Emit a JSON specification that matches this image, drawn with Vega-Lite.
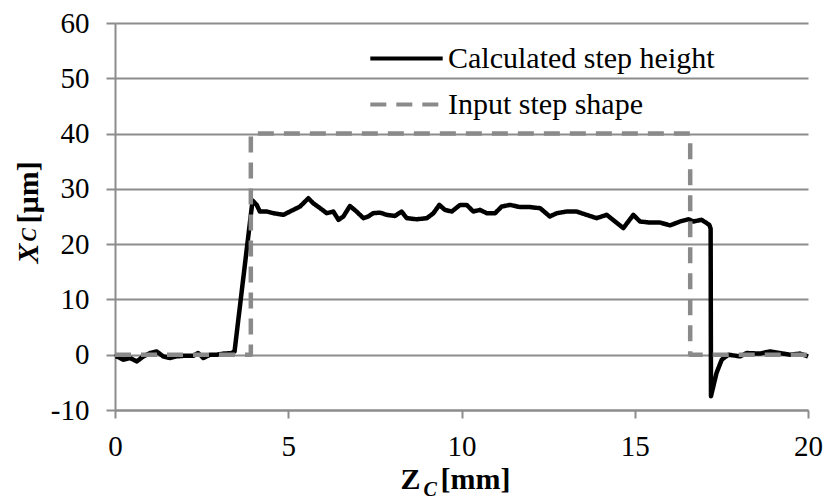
{
  "$schema": "https://vega.github.io/schema/vega-lite/v6.json",
  "width": 693,
  "height": 387,
  "autosize": {"type": "none"},
  "padding": {"left": 115, "top": 23, "right": 17, "bottom": 87},
  "background": "white",
  "config": {
    "view": {"stroke": null},
    "font": "Liberation Serif"
  },
  "datasets": {
    "d": [
      {"s": "Calculated step height", "i": 1, "zc": 0.0, "xc": -0.4},
      {"s": "Calculated step height", "i": 2, "zc": 0.05, "xc": -0.3},
      {"s": "Calculated step height", "i": 3, "zc": 0.24, "xc": -0.9},
      {"s": "Calculated step height", "i": 4, "zc": 0.43, "xc": -0.6},
      {"s": "Calculated step height", "i": 5, "zc": 0.63, "xc": -1.2},
      {"s": "Calculated step height", "i": 6, "zc": 0.82, "xc": -0.3},
      {"s": "Calculated step height", "i": 7, "zc": 1.01, "xc": 0.3},
      {"s": "Calculated step height", "i": 8, "zc": 1.2, "xc": 0.6},
      {"s": "Calculated step height", "i": 9, "zc": 1.39, "xc": -0.3},
      {"s": "Calculated step height", "i": 10, "zc": 1.59, "xc": -0.6},
      {"s": "Calculated step height", "i": 11, "zc": 1.78, "xc": -0.3},
      {"s": "Calculated step height", "i": 12, "zc": 1.97, "xc": -0.2},
      {"s": "Calculated step height", "i": 13, "zc": 2.26, "xc": -0.2},
      {"s": "Calculated step height", "i": 14, "zc": 2.4, "xc": 0.3},
      {"s": "Calculated step height", "i": 15, "zc": 2.55, "xc": -0.6},
      {"s": "Calculated step height", "i": 16, "zc": 2.74, "xc": 0.0},
      {"s": "Calculated step height", "i": 17, "zc": 2.93, "xc": 0.0},
      {"s": "Calculated step height", "i": 18, "zc": 3.13, "xc": 0.2},
      {"s": "Calculated step height", "i": 19, "zc": 3.37, "xc": 0.3},
      {"s": "Calculated step height", "i": 20, "zc": 3.45, "xc": 0.6},
      {"s": "Calculated step height", "i": 21, "zc": 3.97, "xc": 27.9},
      {"s": "Calculated step height", "i": 22, "zc": 4.09, "xc": 27.1},
      {"s": "Calculated step height", "i": 23, "zc": 4.18, "xc": 25.9},
      {"s": "Calculated step height", "i": 24, "zc": 4.38, "xc": 25.9},
      {"s": "Calculated step height", "i": 25, "zc": 4.57, "xc": 25.6},
      {"s": "Calculated step height", "i": 26, "zc": 4.86, "xc": 25.3},
      {"s": "Calculated step height", "i": 27, "zc": 5.05, "xc": 25.9},
      {"s": "Calculated step height", "i": 28, "zc": 5.34, "xc": 26.8},
      {"s": "Calculated step height", "i": 29, "zc": 5.58, "xc": 28.3},
      {"s": "Calculated step height", "i": 30, "zc": 5.72, "xc": 27.4},
      {"s": "Calculated step height", "i": 31, "zc": 5.92, "xc": 26.5},
      {"s": "Calculated step height", "i": 32, "zc": 6.11, "xc": 25.6},
      {"s": "Calculated step height", "i": 33, "zc": 6.3, "xc": 25.9},
      {"s": "Calculated step height", "i": 34, "zc": 6.45, "xc": 24.4},
      {"s": "Calculated step height", "i": 35, "zc": 6.59, "xc": 25.0},
      {"s": "Calculated step height", "i": 36, "zc": 6.78, "xc": 26.9},
      {"s": "Calculated step height", "i": 37, "zc": 6.97, "xc": 25.9},
      {"s": "Calculated step height", "i": 38, "zc": 7.17, "xc": 24.7},
      {"s": "Calculated step height", "i": 39, "zc": 7.31, "xc": 25.0},
      {"s": "Calculated step height", "i": 40, "zc": 7.45, "xc": 25.6},
      {"s": "Calculated step height", "i": 41, "zc": 7.65, "xc": 25.7},
      {"s": "Calculated step height", "i": 42, "zc": 7.84, "xc": 25.3},
      {"s": "Calculated step height", "i": 43, "zc": 8.08, "xc": 25.1},
      {"s": "Calculated step height", "i": 44, "zc": 8.27, "xc": 25.9},
      {"s": "Calculated step height", "i": 45, "zc": 8.42, "xc": 24.7},
      {"s": "Calculated step height", "i": 46, "zc": 8.71, "xc": 24.5},
      {"s": "Calculated step height", "i": 47, "zc": 9.0, "xc": 24.7},
      {"s": "Calculated step height", "i": 48, "zc": 9.19, "xc": 25.6},
      {"s": "Calculated step height", "i": 49, "zc": 9.36, "xc": 27.1},
      {"s": "Calculated step height", "i": 50, "zc": 9.52, "xc": 26.2},
      {"s": "Calculated step height", "i": 51, "zc": 9.72, "xc": 25.9},
      {"s": "Calculated step height", "i": 52, "zc": 9.96, "xc": 27.1},
      {"s": "Calculated step height", "i": 53, "zc": 10.15, "xc": 27.1},
      {"s": "Calculated step height", "i": 54, "zc": 10.34, "xc": 25.9},
      {"s": "Calculated step height", "i": 55, "zc": 10.53, "xc": 26.2},
      {"s": "Calculated step height", "i": 56, "zc": 10.73, "xc": 25.6},
      {"s": "Calculated step height", "i": 57, "zc": 10.97, "xc": 25.6},
      {"s": "Calculated step height", "i": 58, "zc": 11.16, "xc": 26.8},
      {"s": "Calculated step height", "i": 59, "zc": 11.4, "xc": 27.1},
      {"s": "Calculated step height", "i": 60, "zc": 11.69, "xc": 26.7},
      {"s": "Calculated step height", "i": 61, "zc": 11.98, "xc": 26.7},
      {"s": "Calculated step height", "i": 62, "zc": 12.27, "xc": 26.5},
      {"s": "Calculated step height", "i": 63, "zc": 12.55, "xc": 25.0},
      {"s": "Calculated step height", "i": 64, "zc": 12.75, "xc": 25.6},
      {"s": "Calculated step height", "i": 65, "zc": 13.04, "xc": 25.9},
      {"s": "Calculated step height", "i": 66, "zc": 13.32, "xc": 25.9},
      {"s": "Calculated step height", "i": 67, "zc": 13.61, "xc": 25.3},
      {"s": "Calculated step height", "i": 68, "zc": 13.9, "xc": 24.7},
      {"s": "Calculated step height", "i": 69, "zc": 14.19, "xc": 25.3},
      {"s": "Calculated step height", "i": 70, "zc": 14.43, "xc": 24.1},
      {"s": "Calculated step height", "i": 71, "zc": 14.67, "xc": 22.9},
      {"s": "Calculated step height", "i": 72, "zc": 14.96, "xc": 25.3},
      {"s": "Calculated step height", "i": 73, "zc": 15.15, "xc": 24.1},
      {"s": "Calculated step height", "i": 74, "zc": 15.44, "xc": 23.9},
      {"s": "Calculated step height", "i": 75, "zc": 15.73, "xc": 23.9},
      {"s": "Calculated step height", "i": 76, "zc": 16.02, "xc": 23.4},
      {"s": "Calculated step height", "i": 77, "zc": 16.31, "xc": 24.1},
      {"s": "Calculated step height", "i": 78, "zc": 16.55, "xc": 24.5},
      {"s": "Calculated step height", "i": 79, "zc": 16.69, "xc": 24.1},
      {"s": "Calculated step height", "i": 80, "zc": 16.93, "xc": 24.4},
      {"s": "Calculated step height", "i": 81, "zc": 17.15, "xc": 23.5},
      {"s": "Calculated step height", "i": 82, "zc": 17.19, "xc": 22.8},
      {"s": "Calculated step height", "i": 83, "zc": 17.2, "xc": -7.5},
      {"s": "Calculated step height", "i": 84, "zc": 17.36, "xc": -3.3},
      {"s": "Calculated step height", "i": 85, "zc": 17.51, "xc": -0.9},
      {"s": "Calculated step height", "i": 86, "zc": 17.7, "xc": 0.0},
      {"s": "Calculated step height", "i": 87, "zc": 18.04, "xc": -0.3},
      {"s": "Calculated step height", "i": 88, "zc": 18.23, "xc": 0.3},
      {"s": "Calculated step height", "i": 89, "zc": 18.61, "xc": 0.2},
      {"s": "Calculated step height", "i": 90, "zc": 18.9, "xc": 0.6},
      {"s": "Calculated step height", "i": 91, "zc": 19.19, "xc": 0.3},
      {"s": "Calculated step height", "i": 92, "zc": 19.48, "xc": 0.0},
      {"s": "Calculated step height", "i": 93, "zc": 19.77, "xc": 0.2},
      {"s": "Calculated step height", "i": 94, "zc": 20.0, "xc": -0.3},
      {"s": "Input step shape", "i": 101, "zc": 0.0, "xc": 0.0},
      {"s": "Input step shape", "i": 102, "zc": 3.92, "xc": 0.0},
      {"s": "Input step shape", "i": 103, "zc": 3.92, "xc": 40.0},
      {"s": "Input step shape", "i": 104, "zc": 16.6, "xc": 40.0},
      {"s": "Input step shape", "i": 105, "zc": 16.6, "xc": 0.0},
      {"s": "Input step shape", "i": 106, "zc": 20.0, "xc": 0.0}
    ]
  },
  "data": {"name": "d"},
  "layer": [
    {
      "mark": {"type": "line", "strokeWidth": 4.5, "strokeJoin": "round", "strokeCap": "butt"},
      "encoding": {
        "x": {
          "field": "zc", "type": "quantitative",
          "scale": {"domain": [0, 20], "nice": false, "zero": false},
          "axis": {
            "orient": "bottom",
            "values": [0, 5, 10, 15, 20],
            "labelExpr": "'' + datum.value",
            "grid": false,
            "domain": true, "domainColor": "#8c8c8c", "domainWidth": 2,
            "ticks": true, "tickColor": "#8c8c8c", "tickWidth": 2, "tickSize": 8,
            "labelFont": "Liberation Serif", "labelFontSize": 29, "labelColor": "black",
            "labelPadding": 14, "labelFlush": false,
            "title": "Z",
            "titleFont": "Liberation Serif", "titleFontSize": 30, "titleFontWeight": "bold", "titleColor": "black",
            "titleAlign": "left", "titleBaseline": "alphabetic", "titleAnchor": null,
            "titleX": 285, "titleY": 78
          }
        },
        "y": {
          "field": "xc", "type": "quantitative",
          "scale": {"domain": [-10, 60], "nice": false, "zero": false},
          "axis": {
            "orient": "left",
            "values": [-10, 0, 10, 20, 30, 40, 50, 60],
            "labelExpr": "'' + datum.value",
            "grid": true, "gridColor": "#8c8c8c", "gridWidth": 2,
            "domain": true, "domainColor": "#8c8c8c", "domainWidth": 2,
            "ticks": true, "tickColor": "#8c8c8c", "tickWidth": 2, "tickSize": 9,
            "labelFont": "Liberation Serif", "labelFontSize": 29, "labelColor": "black",
            "labelPadding": 17, "labelFlush": false,
            "title": "X",
            "titleFont": "Liberation Serif", "titleFontSize": 30, "titleFontWeight": "bold", "titleFontStyle": "italic", "titleColor": "black",
            "titleAngle": 270, "titleAlign": "left", "titleBaseline": "alphabetic", "titleAnchor": null,
            "titleX": -78, "titleY": 240
          }
        },
        "color": {
          "field": "s", "type": "nominal",
          "scale": {"domain": ["Calculated step height", "Input step shape"], "range": ["black", "#8a8a8a"]},
          "legend": {
            "title": null, "orient": "none", "legendX": 271, "legendY": 15,
            "symbolType": "M-2,0H2", "symbolSize": 1310, "symbolStrokeWidth": 4,
            "labelFont": "Liberation Serif", "labelFontSize": 30, "labelColor": "black", "labelLimit": 400,
            "labelOffset": 21, "rowPadding": 10, "padding": 0
          }
        },
        "strokeDash": {
          "field": "s", "type": "nominal",
          "scale": {"domain": ["Calculated step height", "Input step shape"], "range": [[1, 0], [16, 10]]},
          "legend": {
            "title": null, "orient": "none", "legendX": 271, "legendY": 15,
            "symbolType": "M-2,0H2", "symbolSize": 1310, "symbolStrokeWidth": 4,
            "labelFont": "Liberation Serif", "labelFontSize": 30, "labelColor": "black", "labelLimit": 400,
            "labelOffset": 21, "rowPadding": 10, "padding": 0
          }
        },
        "order": {"field": "i", "type": "quantitative"}
      }
    },
    {
      "mark": {"type": "line", "opacity": 0},
      "encoding": {
        "x": {
          "field": "zc", "type": "quantitative",
          "axis": {
            "orient": "bottom", "grid": false, "domain": false, "ticks": false, "labels": false,
            "title": "C",
            "titleFont": "Liberation Serif", "titleFontSize": 20, "titleFontWeight": "bold", "titleFontStyle": "italic", "titleColor": "black",
            "titleAlign": "left", "titleBaseline": "alphabetic", "titleAnchor": null,
            "titleX": 308, "titleY": 85
          }
        },
        "y": {
          "field": "xc", "type": "quantitative",
          "axis": {
            "orient": "left", "grid": false, "domain": false, "ticks": false, "labels": false,
            "title": "C",
            "titleFont": "Liberation Serif", "titleFontSize": 20, "titleFontWeight": "bold", "titleFontStyle": "italic", "titleColor": "black",
            "titleAngle": 270, "titleAlign": "left", "titleBaseline": "alphabetic", "titleAnchor": null,
            "titleX": -80, "titleY": 218
          }
        },
        "detail": {"field": "s", "type": "nominal"},
        "order": {"field": "i", "type": "quantitative"}
      }
    },
    {
      "mark": {"type": "line", "opacity": 0},
      "encoding": {
        "x": {
          "field": "zc", "type": "quantitative",
          "axis": {
            "orient": "bottom", "grid": false, "domain": false, "ticks": false, "labels": false,
            "title": "[mm]",
            "titleFont": "Liberation Serif", "titleFontSize": 30, "titleFontWeight": "bold", "titleColor": "black",
            "titleAlign": "left", "titleBaseline": "alphabetic", "titleAnchor": null,
            "titleX": 325, "titleY": 78
          }
        },
        "y": {
          "field": "xc", "type": "quantitative",
          "axis": {
            "orient": "left", "grid": false, "domain": false, "ticks": false, "labels": false,
            "title": "[µm]",
            "titleFont": "Liberation Serif", "titleFontSize": 30, "titleFontWeight": "bold", "titleColor": "black",
            "titleAngle": 270, "titleAlign": "left", "titleBaseline": "alphabetic", "titleAnchor": null,
            "titleX": -78, "titleY": 200
          }
        },
        "detail": {"field": "s", "type": "nominal"},
        "order": {"field": "i", "type": "quantitative"}
      }
    }
  ],
  "resolve": {"axis": {"x": "independent", "y": "independent"}}
}
